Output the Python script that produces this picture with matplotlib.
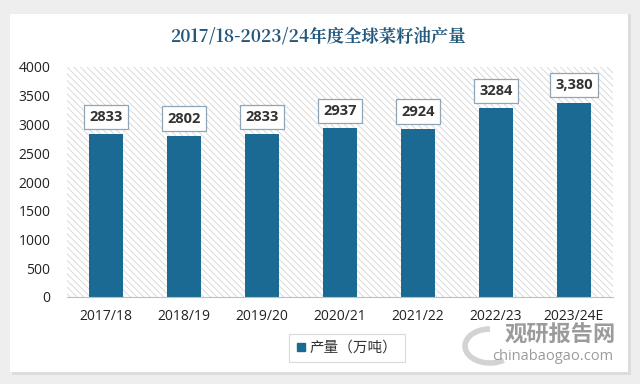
import matplotlib
matplotlib.use("Agg")
import matplotlib.pyplot as plt
from matplotlib.patches import Rectangle, Arc
from matplotlib.lines import Line2D

categories = ["2017/18", "2018/19", "2019/20", "2020/21", "2021/22", "2022/23", "2023/24E"]
values = [2833, 2802, 2833, 2937, 2924, 3284, 3380]
value_labels = ["2833", "2802", "2833", "2937", "2924", "3284", "3,380"]
yticks = [0, 500, 1000, 1500, 2000, 2500, 3000, 3500, 4000]
title = "2017/18-2023/24年度全球菜籽油产量"
legend_label = "产量（万吨）"

plt.rcParams['font.family'] = ['Open Sans', 'Noto Sans CJK SC', 'DejaVu Sans']
plt.rcParams['hatch.linewidth'] = 0.6
plt.rcParams['hatch.color'] = '#d4d4d4'

fig = plt.figure(figsize=(6.4, 3.84), dpi=100, facecolor='#eeeeee')
W, H = 640, 384

def fx(x): return x / W
def fy(y): return 1 - y / H

# shadow + white card
fig.add_artist(Rectangle((fx(12), fy(375)), fx(619), 361 / H, transform=fig.transFigure,
                         facecolor='#dcdcdc', edgecolor='none', zorder=-2))
fig.add_artist(Rectangle((fx(10), fy(372)), fx(618), 358 / H, transform=fig.transFigure,
                         facecolor='white', edgecolor='none', zorder=-1))

ax = fig.add_axes([fx(67), fy(297), fx(613 - 67), (297 - 67) / H])
ax.set_zorder(1)
ax.set_facecolor('none')
ax.add_patch(Rectangle((0, 0), 1, 1, transform=ax.transAxes, facecolor='white',
                       edgecolor='#d4d4d4', hatch='\\\\\\\\\\', linewidth=0, zorder=0))

x = range(len(categories))
ax.bar(x, values, width=0.44, color='#1b6a93', zorder=2)
ax.set_xlim(-0.5, len(categories) - 0.5)
ax.set_ylim(0, 4000)
ax.set_yticks(yticks)
ax.set_yticklabels([str(t) for t in yticks], fontsize=10, color='#222222')
ax.set_xticks(list(x))
ax.set_xticklabels(categories, fontsize=10, color='#222222')
ax.tick_params(axis='both', length=0)
ax.tick_params(axis='y', pad=12)
ax.tick_params(axis='x', pad=9)
for s in ['top', 'right', 'left']:
    ax.spines[s].set_visible(False)
ax.spines['bottom'].set_color('#bfbfbf')
ax.spines['bottom'].set_zorder(3)

for xi, v, lab in zip(x, values, value_labels):
    ax.annotate(lab, (xi, v), xytext=(0, 12.5), textcoords='offset points',
                ha='center', va='center', fontsize=10.5, fontweight='bold', color='#333333',
                bbox=dict(boxstyle='square,pad=0.35', facecolor='white', edgecolor='#8ea6b8', linewidth=0.9),
                zorder=4)

fig.text(fx(318), fy(37), title, ha='center', va='center', fontsize=12.5, fontweight='bold',
         color='#23587d', family=['Noto Serif CJK SC', 'Noto Sans CJK SC', 'DejaVu Sans'])

handle = Line2D([], [], marker='s', linestyle='none', markersize=6, color='#1b6a93')
leg = fig.legend([handle], [legend_label], loc='center', bbox_to_anchor=(fx(347), fy(348)),
                 frameon=True, fancybox=False, edgecolor='#d0d0d0',
                 handlelength=0.6, handletextpad=0.3, borderpad=0.5,
                 prop={'family': ['Noto Sans CJK SC', 'DejaVu Sans'], 'size': 10.5})
leg.get_frame().set_linewidth(0.8)
for t in leg.get_texts():
    t.set_color('#333333')

# watermark
fig.add_artist(Arc((fx(490), fy(346)), 50 / W, 34 / H, theta1=90, theta2=300,
                   transform=fig.transFigure, color='#c8c8c8', linewidth=4, alpha=0.8, zorder=5))
fig.text(fx(560), fy(335), "观研报告网", ha='center', va='center', fontsize=16, fontweight='bold',
         color='#8a8a8a', alpha=0.85, family=['Noto Sans CJK SC', 'DejaVu Sans'], zorder=5)
fig.text(fx(553), fy(356), "chinabaogao.com", ha='center', va='center', fontsize=10.5,
         color='#8a8a8a', alpha=0.85, zorder=5)

fig.savefig("out.png", dpi=100, facecolor=fig.get_facecolor())
